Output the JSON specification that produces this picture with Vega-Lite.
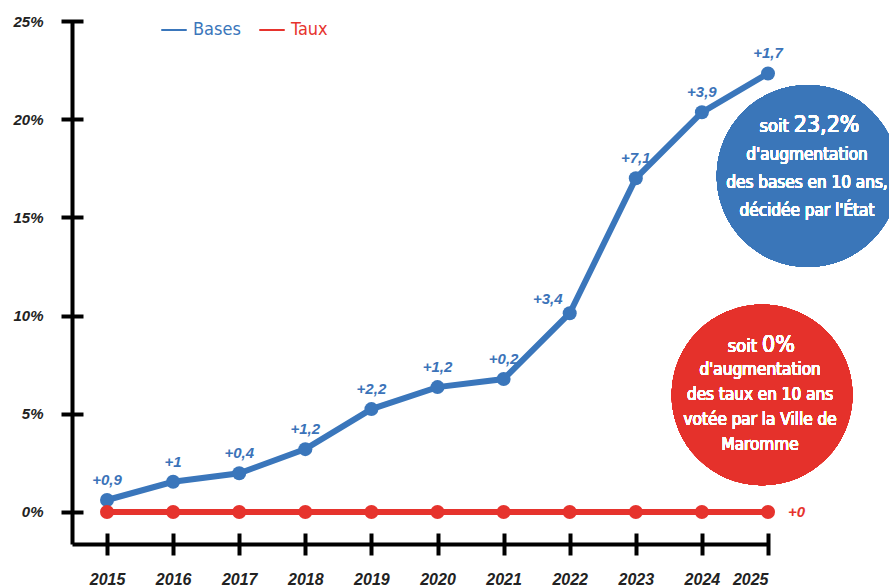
{
  "$schema": "https://vega.github.io/schema/vega-lite/v6.json",
  "width": 696,
  "height": 523,
  "autosize": {"type": "none"},
  "padding": {"left": 72, "top": 21, "right": 121, "bottom": 43},
  "background": "white",
  "config": {"view": {"stroke": null}, "font": "Liberation Sans"},
  "data": {
    "values": [
      {"annee": 2015, "serie": "Bases", "valeur": 0.61, "label": "+0,9"},
      {"annee": 2016, "serie": "Bases", "valeur": 1.54, "label": "+1"},
      {"annee": 2017, "serie": "Bases", "valeur": 1.97, "label": "+0,4"},
      {"annee": 2018, "serie": "Bases", "valeur": 3.2, "label": "+1,2"},
      {"annee": 2019, "serie": "Bases", "valeur": 5.24, "label": "+2,2"},
      {"annee": 2020, "serie": "Bases", "valeur": 6.36, "label": "+1,2"},
      {"annee": 2021, "serie": "Bases", "valeur": 6.77, "label": "+0,2"},
      {"annee": 2022, "serie": "Bases", "valeur": 10.12, "label": "+3,4"},
      {"annee": 2023, "serie": "Bases", "valeur": 16.99, "label": "+7,1"},
      {"annee": 2024, "serie": "Bases", "valeur": 20.35, "label": "+3,9"},
      {"annee": 2025, "serie": "Bases", "valeur": 22.33, "label": "+1,7"},
      {"annee": 2015, "serie": "Taux", "valeur": 0, "label": ""},
      {"annee": 2016, "serie": "Taux", "valeur": 0, "label": ""},
      {"annee": 2017, "serie": "Taux", "valeur": 0, "label": ""},
      {"annee": 2018, "serie": "Taux", "valeur": 0, "label": ""},
      {"annee": 2019, "serie": "Taux", "valeur": 0, "label": ""},
      {"annee": 2020, "serie": "Taux", "valeur": 0, "label": ""},
      {"annee": 2021, "serie": "Taux", "valeur": 0, "label": ""},
      {"annee": 2022, "serie": "Taux", "valeur": 0, "label": ""},
      {"annee": 2023, "serie": "Taux", "valeur": 0, "label": ""},
      {"annee": 2024, "serie": "Taux", "valeur": 0, "label": ""},
      {"annee": 2025, "serie": "Taux", "valeur": 0, "label": "+0"}
    ]
  },
  "layer": [
    {
      "mark": {"type": "line", "strokeWidth": 6},
      "encoding": {
        "x": {"field": "annee", "type": "quantitative", "scale": {"domain": [2014.47, 2025], "nice": false, "zero": false},
              "axis": {"orient": "bottom", "domain": true, "domainColor": "black", "domainWidth": 4, "ticks": false, "labels": false, "grid": false, "title": null}},
        "y": {"field": "valeur", "type": "quantitative", "scale": {"domain": [-1.63, 25], "nice": false},
              "axis": {"orient": "left", "domain": true, "domainColor": "black", "domainWidth": 4, "ticks": false, "labels": false, "grid": false, "title": null}},
        "color": {"field": "serie", "type": "nominal",
          "scale": {"domain": ["Bases", "Taux"], "range": ["#3a76bb", "#e6332d"]},
          "legend": {"orient": "none", "legendX": 88, "legendY": -5, "direction": "horizontal", "title": null,
            "symbolType": "stroke", "symbolStrokeWidth": 2, "symbolSize": 650, "labelFont": "'DejaVu Sans Condensed', 'Liberation Sans Narrow', Roboto, sans-serif",
            "labelFontSize": 18, "labelOffset": 5, "columnPadding": 14,
            "labelColor": {"expr": "datum.value == 'Bases' ? '#3a76bb' : '#e6332d'"}}}
      }
    },
    {
      "mark": {"type": "point", "filled": true, "opacity": 1, "size": 196},
      "encoding": {
        "x": {"field": "annee", "type": "quantitative",
              "axis": {"orient": "bottom", "offset": -11, "domain": false, "ticks": true, "tickSize": 22, "tickWidth": 4, "tickColor": "black",
                       "values": [2015, 2016, 2017, 2018, 2019, 2020, 2021, 2022, 2023, 2024, 2025], "format": "d",
                       "labelFont": "Liberation Sans", "labelFontSize": 16, "labelFontWeight": "bold", "labelFontStyle": "italic",
                       "labelColor": "#222222", "labelPadding": 16, "grid": false, "title": null}},
        "y": {"field": "valeur", "type": "quantitative",
              "axis": {"orient": "left", "offset": -11, "domain": false, "ticks": true, "tickSize": 22, "tickWidth": 4, "tickColor": "black",
                       "values": [0, 5, 10, 15, 20, 25], "labelExpr": "datum.value + '%'",
                       "labelFont": "Liberation Sans", "labelFontSize": 15, "labelFontWeight": "bold", "labelFontStyle": "italic",
                       "labelColor": "#222222", "labelPadding": 18, "grid": false, "title": null}},
        "color": {"field": "serie", "type": "nominal", "legend": null}
      }
    },
    {
      "transform": [{"filter": "datum.serie == 'Bases' && datum.annee != 2022"}],
      "mark": {"type": "text", "dy": -20, "font": "Liberation Sans", "fontSize": 15, "fontWeight": "bold", "fontStyle": "italic", "color": "#3b73b9"},
      "encoding": {
        "x": {"field": "annee", "type": "quantitative", "axis": null},
        "y": {"field": "valeur", "type": "quantitative", "axis": null},
        "text": {"field": "label"}
      }
    },
    {
      "transform": [{"filter": "datum.serie == 'Bases' && datum.annee == 2022"}],
      "mark": {"type": "text", "dy": -14, "dx": -22, "font": "Liberation Sans", "fontSize": 15, "fontWeight": "bold", "fontStyle": "italic", "color": "#3b73b9"},
      "encoding": {
        "x": {"field": "annee", "type": "quantitative", "axis": null},
        "y": {"field": "valeur", "type": "quantitative", "axis": null},
        "text": {"field": "label"}
      }
    },
    {
      "transform": [{"filter": "datum.serie == 'Taux' && datum.label != ''"}],
      "mark": {"type": "text", "dx": 20, "align": "left", "baseline": "middle", "font": "Liberation Sans", "fontSize": 15, "fontWeight": "bold", "fontStyle": "italic", "color": "#e6332d"},
      "encoding": {
        "x": {"field": "annee", "type": "quantitative", "axis": null},
        "y": {"field": "valeur", "type": "quantitative", "axis": null},
        "text": {"field": "label"}
      }
    },
    {
      "mark": {"type": "point", "filled": true, "opacity": 1, "size": 33100, "color": "#3a76b9"},
      "encoding": {
        "x": {"datum": 2025.6, "type": "quantitative", "axis": null},
        "y": {"datum": 17.11, "type": "quantitative", "axis": null}
      }
    },
    {
      "mark": {"type": "point", "filled": true, "opacity": 1, "size": 32700, "color": "#e5312b"},
      "encoding": {
        "x": {"datum": 2024.91, "type": "quantitative", "axis": null},
        "y": {"datum": 5.96, "type": "quantitative", "axis": null}
      }
    },
    {
      "mark": {"type": "text", "text": "soit", "align": "right", "dx": -3, "baseline": "alphabetic", "font": "'DejaVu Sans Condensed', 'Liberation Sans Narrow', Roboto, sans-serif", "fontSize": 18, "color": "white"},
      "encoding": {
        "x": {"datum": 2025.36, "type": "quantitative", "axis": null},
        "y": {"datum": 19.35, "type": "quantitative", "axis": null}
      }
    },
    {
      "mark": {"type": "text", "text": "23,2%", "align": "left", "dx": 2, "baseline": "alphabetic", "font": "'DejaVu Sans Condensed', 'Liberation Sans Narrow', Roboto, sans-serif", "fontSize": 23, "color": "white"},
      "encoding": {
        "x": {"datum": 2025.36, "type": "quantitative", "axis": null},
        "y": {"datum": 19.35, "type": "quantitative", "axis": null}
      }
    },
    {
      "mark": {"type": "text", "text": ["d'augmentation", "des bases en 10 ans,", "décidée par l'État"], "lineHeight": 28, "align": "center", "baseline": "middle", "font": "'DejaVu Sans Condensed', 'Liberation Sans Narrow', Roboto, sans-serif", "fontSize": 17, "color": "white"},
      "encoding": {
        "x": {"datum": 2025.59, "type": "quantitative", "axis": null},
        "y": {"datum": 18.18, "type": "quantitative", "axis": null}
      }
    },
    {
      "mark": {"type": "text", "text": "soit", "align": "right", "dx": -3, "baseline": "alphabetic", "font": "'DejaVu Sans Condensed', 'Liberation Sans Narrow', Roboto, sans-serif", "fontSize": 18, "color": "white"},
      "encoding": {
        "x": {"datum": 2024.88, "type": "quantitative", "axis": null},
        "y": {"datum": 8.15, "type": "quantitative", "axis": null}
      }
    },
    {
      "mark": {"type": "text", "text": "0%", "align": "left", "dx": 2, "baseline": "alphabetic", "font": "'DejaVu Sans Condensed', 'Liberation Sans Narrow', Roboto, sans-serif", "fontSize": 23, "color": "white"},
      "encoding": {
        "x": {"datum": 2024.88, "type": "quantitative", "axis": null},
        "y": {"datum": 8.15, "type": "quantitative", "axis": null}
      }
    },
    {
      "mark": {"type": "text", "text": ["d'augmentation", "des taux en 10 ans", "votée par la Ville de", "Maromme"], "lineHeight": 25, "align": "center", "baseline": "middle", "font": "'DejaVu Sans Condensed', 'Liberation Sans Narrow', Roboto, sans-serif", "fontSize": 17, "color": "white"},
      "encoding": {
        "x": {"datum": 2024.88, "type": "quantitative", "axis": null},
        "y": {"datum": 7.23, "type": "quantitative", "axis": null}
      }
    }
  ],
  "resolve": {"axis": {"x": "independent", "y": "independent"}}
}
